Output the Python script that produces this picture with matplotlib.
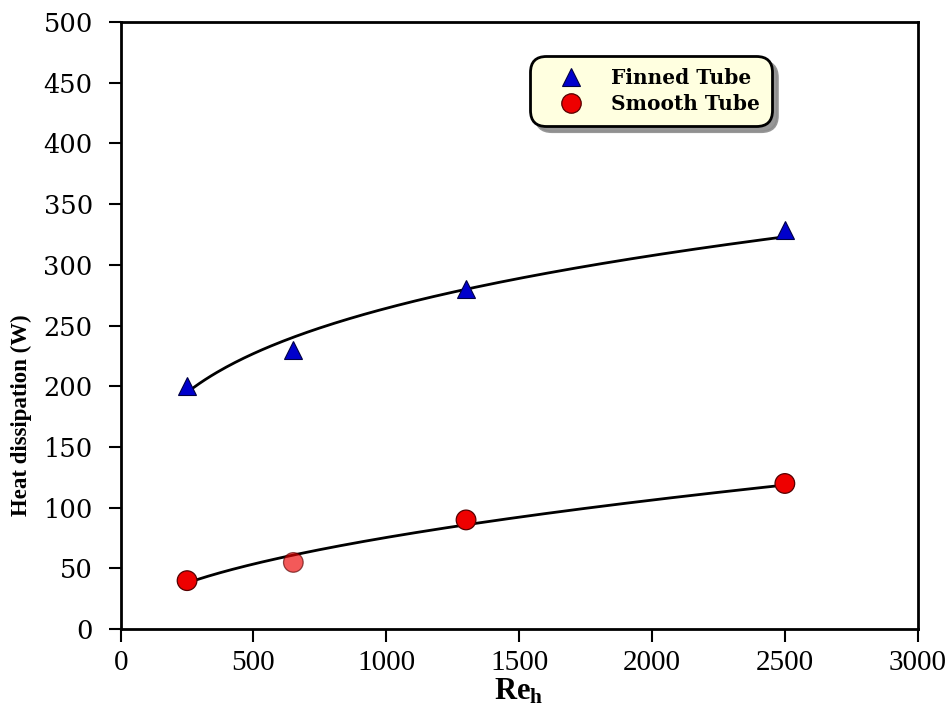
import numpy as np
import matplotlib.pyplot as plt

# Reynolds number and measured heat dissipation
re_h = [250, 650, 1300, 2500]
finned_q = [200, 230, 280, 329]
smooth_q = [40, 55, 90, 120]

plt.rcParams['mathtext.fontset'] = 'custom'
plt.rcParams['mathtext.rm'] = 'Liberation Serif'
plt.rcParams['mathtext.bf'] = 'Liberation Serif:bold'


def power_fit(x, y):
    # least squares fit of y = a * x**b in log space
    b, log_a = np.polyfit(np.log(x), np.log(y), 1)
    xs = np.linspace(min(x), max(x), 200)
    return xs, np.exp(log_a) * xs ** b


fig = plt.figure(figsize=(9.5, 7.07), dpi=100)
ax = fig.add_axes([0.127, 0.110, 0.839, 0.859])

for q in (finned_q, smooth_q):
    xs, ys = power_fit(re_h, q)
    ax.plot(xs, ys, color='black', lw=2.0, zorder=2)

ax.plot(re_h, finned_q, ls='none', marker='^', ms=12.5, mfc='#0000cc',
        mec='#000044', mew=0.8, label='Finned Tube', zorder=3)
smooth_alpha = [1.0, 0.65, 1.0, 1.0]
ax.scatter(re_h, smooth_q, marker='o', s=200, c='#ee0000',
           edgecolors='#550000', linewidths=0.9, alpha=smooth_alpha,
           zorder=3)
ax.plot([], [], ls='none', marker='o', ms=14, mfc='#ee0000',
        mec='#550000', mew=0.9, label='Smooth Tube')

ax.set_xlim(0, 3000)
ax.set_ylim(0, 500)
ax.set_xticks(np.arange(0, 3001, 500))
ax.set_yticks(np.arange(0, 501, 50))

for s in ax.spines.values():
    s.set_linewidth(2.0)
ax.tick_params(axis='both', direction='out', length=9, width=1.5)
ax.tick_params(axis='y', pad=11)
ax.tick_params(axis='x', pad=6)
for t in ax.get_xticklabels():
    t.set_fontfamily('Liberation Serif')
    t.set_fontsize(21)
for t in ax.get_yticklabels():
    t.set_fontfamily('DejaVu Serif')
    t.set_fontsize(18.5)

ax.set_xlabel(r'$\mathbf{Re_h}$', fontsize=22, labelpad=0)
ax.set_ylabel('Heat dissipation (W)', fontsize=16.5, fontweight='bold',
              fontfamily='Liberation Serif')
ax.yaxis.set_label_coords(-0.111, 0.353)

leg = ax.legend(loc='upper left', bbox_to_anchor=(0.514, 0.944),
                borderaxespad=0, frameon=True, fancybox=True,
                shadow={'color': '0.55', 'alpha': 0.9, 'ox': 4, 'oy': -4},
                facecolor='#ffffe0', edgecolor='black', framealpha=1,
                prop={'family': 'DejaVu Serif', 'weight': 'bold', 'size': 14.5},
                handlelength=2.8, handletextpad=0.6, labelspacing=0.3,
                borderpad=0.6)
leg.get_frame().set_linewidth(2.0)
leg.get_frame().set_boxstyle('round', pad=0, rounding_size=0.8)

fig.savefig('out.png', dpi=100)
